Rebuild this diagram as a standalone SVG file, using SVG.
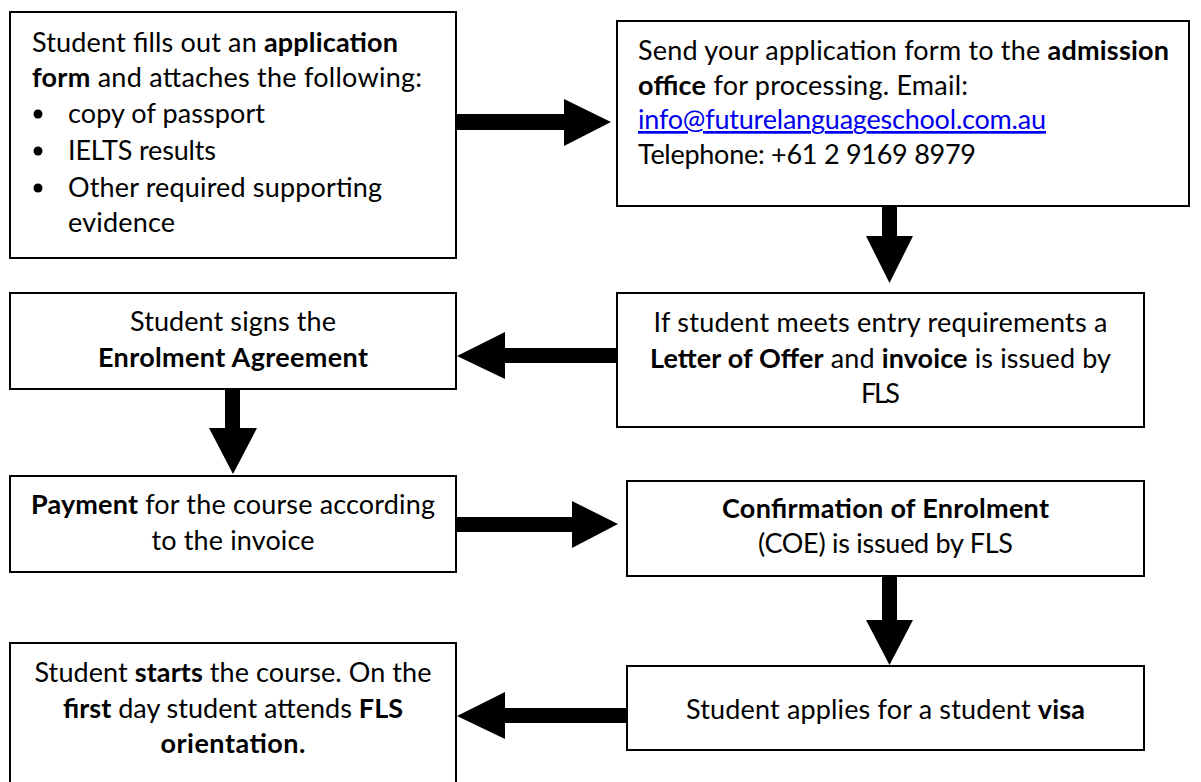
<svg xmlns="http://www.w3.org/2000/svg" width="1201" height="782" viewBox="0 0 1201 782">
<style>
.box{fill:#fff;stroke:#000;stroke-width:2}
.t{font-family:Lato,"Liberation Sans",sans-serif;font-size:27px;fill:#000}
.c{text-anchor:middle}
.b{font-weight:bold}
.link{fill:#0000ee;text-decoration:underline}
.arrow{fill:#000}
</style>
<rect width="1201" height="782" fill="#fff"/>
<g id="connectors">
<polygon class="arrow" points="456,114 564,114 564,99 611,122 564,146 564,130 456,130"/>
<polygon class="arrow" points="882,206 897,206 897,236 913,236 889.5,283 866,236 882,236"/>
<polygon class="arrow" points="617,348 505,348 505,332 457,356 505,379 505,363 617,363"/>
<polygon class="arrow" points="225,389 240,389 240,428 257,428 233,474 209,428 225,428"/>
<polygon class="arrow" points="456,517 572,517 572,501 618,524 572,548 572,532 456,532"/>
<polygon class="arrow" points="882,576 897,576 897,620 913,620 889.5,665 866,620 882,620"/>
<polygon class="arrow" points="627,708 505,708 505,692 457,716 505,739 505,723 627,723"/>
</g>
<g id="n1">
<rect class="box" x="10" y="12" width="446" height="246"/>
<text class="t" x="32" y="52" textLength="366">Student fills out an <tspan class="b">application</tspan></text>
<text class="t" x="32" y="87" textLength="390"><tspan class="b">form</tspan> and attaches the following:</text>
<circle cx="38" cy="114" r="4.5"/>
<text class="t" x="68" y="123" textLength="197">copy of passport</text>
<circle cx="38" cy="151" r="4.5"/>
<text class="t" x="68" y="160" textLength="148">IELTS results</text>
<circle cx="38" cy="188" r="4.5"/>
<text class="t" x="68" y="197" textLength="314">Other required supporting</text>
<text class="t" x="68" y="232" textLength="107">evidence</text>
</g>
<g id="n2">
<rect class="box" x="617" y="21" width="572" height="185"/>
<text class="t" x="638" y="60" textLength="531">Send your application form to the <tspan class="b">admission</tspan></text>
<text class="t" x="638" y="95" textLength="330"><tspan class="b">office</tspan> for processing. Email:</text>
<text class="t link" x="638" y="129" textLength="408">info@futurelanguageschool.com.au</text>
<text class="t" x="638" y="164" textLength="338">Telephone: +61 2 9169 8979</text>
</g>
<g id="n3">
<rect class="box" x="617" y="293" width="527" height="134"/>
<text class="t c" x="880.5" y="332" textLength="454">If student meets entry requirements a</text>
<text class="t c" x="880.5" y="368" textLength="461"><tspan class="b">Letter of Offer</tspan> and <tspan class="b">invoice</tspan> is issued by</text>
<text class="t c" x="880.5" y="403" textLength="39">FLS</text>
</g>
<g id="n4">
<rect class="box" x="10" y="293" width="446" height="96"/>
<text class="t c" x="233" y="331" textLength="206">Student signs the</text>
<text class="t c b" x="233" y="367" textLength="270">Enrolment Agreement</text>
</g>
<g id="n5">
<rect class="box" x="10" y="476" width="446" height="96"/>
<text class="t c" x="233" y="514" textLength="404"><tspan class="b">Payment</tspan> for the course according</text>
<text class="t c" x="233" y="550" textLength="163">to the invoice</text>
</g>
<g id="n6">
<rect class="box" x="627" y="481" width="517" height="95"/>
<text class="t c b" x="885.5" y="518" textLength="327">Confirmation of Enrolment</text>
<text class="t c" x="885.5" y="553" textLength="255">(COE) is issued by FLS</text>
</g>
<g id="n7">
<rect class="box" x="627" y="666" width="517" height="84"/>
<text class="t c" x="885.5" y="719" textLength="399">Student applies for a student <tspan class="b">visa</tspan></text>
</g>
<g id="n8">
<rect class="box" x="10" y="643" width="446" height="141"/>
<text class="t c" x="233" y="682" textLength="397">Student <tspan class="b">starts</tspan> the course. On the</text>
<text class="t c" x="233" y="718" textLength="340"><tspan class="b">first</tspan> day student attends <tspan class="b">FLS</tspan></text>
<text class="t c b" x="233" y="753" textLength="145">orientation.</text>
</g>
</svg>
